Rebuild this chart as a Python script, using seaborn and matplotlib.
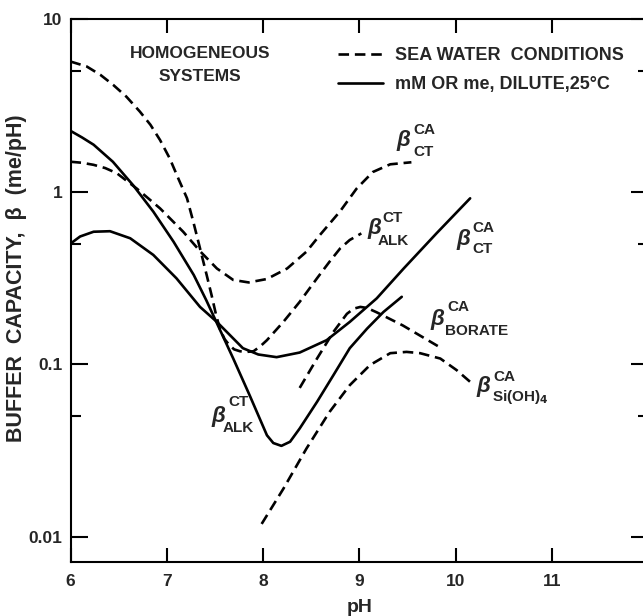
import numpy as np
import pandas as pd
import matplotlib
matplotlib.use("Agg")
import matplotlib.pyplot as plt
from matplotlib.lines import Line2D
from matplotlib.ticker import FixedLocator, NullFormatter
import seaborn as sns

# ---------------------------------------------------------------- data
# Sea water conditions (dashed)
ph_sea_ct_alk = [6.0, 6.168, 6.31, 6.444, 6.58, 6.72, 6.83, 6.93, 7.03, 7.12, 7.21,
                 7.275, 7.345, 7.414, 7.466, 7.51, 7.55, 7.6, 7.65, 7.7, 7.76, 7.83,
                 7.9, 7.97, 8.04, 8.21, 8.38, 8.56, 8.69, 8.80, 8.9, 9.02]
b_sea_ct_alk = [5.67, 5.31, 4.75, 4.15, 3.55, 2.91, 2.44, 1.99, 1.56, 1.19, 0.915,
                0.67, 0.469, 0.329, 0.25, 0.195, 0.161, 0.14, 0.129, 0.122, 0.119, 0.118,
                0.119, 0.127, 0.138, 0.176, 0.23, 0.315, 0.393, 0.469, 0.525, 0.573]

ph_sea_ca_ct = [6.0, 6.12, 6.24, 6.36, 6.48, 6.69, 6.93, 7.17, 7.35, 7.52, 7.69, 7.85,
                8.04, 8.25, 8.45, 8.59, 8.80, 8.97, 9.14, 9.32, 9.54]
b_sea_ca_ct = [1.49, 1.47, 1.43, 1.37, 1.28, 1.04, 0.80, 0.586, 0.449, 0.359, 0.308, 0.298,
               0.312, 0.359, 0.449, 0.561, 0.77, 1.04, 1.30, 1.44, 1.48]

ph_borate = [8.38, 8.56, 8.73, 8.87, 8.94, 9.01, 9.08, 9.18, 9.45, 9.82]
b_borate = [0.073, 0.108, 0.154, 0.196, 0.210, 0.215, 0.212, 0.20, 0.168, 0.127]

ph_silicate = [7.985, 8.21, 8.45, 8.69, 8.90, 9.11, 9.32, 9.49, 9.63, 9.84, 10.01, 10.17]
b_silicate = [0.0119, 0.019, 0.0325, 0.053, 0.0757, 0.099, 0.116, 0.118, 0.116, 0.108,
              0.0925, 0.0774]

# Dilute solution, 25 C (solid)
ph_dil_ct_alk = [6.0, 6.12, 6.24, 6.44, 6.65, 6.86, 7.07, 7.28, 7.41, 7.69, 7.86, 8.04,
                 8.106, 8.19, 8.28, 8.38, 8.56, 8.73, 8.90, 9.08, 9.25, 9.44]
b_dil_ct_alk = [2.25, 2.06, 1.87, 1.49, 1.09, 0.766, 0.513, 0.329, 0.235, 0.108, 0.0662,
                0.0388, 0.0350, 0.0337, 0.0356, 0.0425, 0.0606, 0.0865, 0.124, 0.161,
                0.201, 0.246]

ph_dil_ca_ct = [6.0, 6.1, 6.24, 6.41, 6.62, 6.86, 7.10, 7.345, 7.52, 7.79, 7.95,
                8.14, 8.38, 8.66, 8.90, 9.18, 9.46, 9.80, 10.15]
b_dil_ca_ct = [0.50, 0.55, 0.586, 0.59, 0.537, 0.43, 0.315, 0.215, 0.176, 0.124, 0.114,
               0.110, 0.117, 0.138, 0.176, 0.241, 0.359, 0.573, 0.915]

x_ticks = [6, 7, 8, 9, 10, 11]
x_tick_labels = ["6", "7", "8", "9", "10", "11"]
y_ticks = [0.01, 0.1, 1, 10]
y_tick_labels = ["0.01", "0.1", "1", "10"]
y_minor_ticks = [0.05, 0.5, 5]

legend_labels = ["SEA WATER  CONDITIONS", "mM OR me, DILUTE,25°C"]

# ---------------------------------------------------------------- style
sns.set_style("ticks")
plt.rcParams["font.family"] = ["Liberation Sans", "DejaVu Sans"]
plt.rcParams["font.weight"] = "bold"

LW = 1.9
DASH = (0, (4, 2.2))

fig = plt.figure(figsize=(6.43, 6.16), dpi=100)
ax = fig.add_axes([70.5 / 643, 54 / 616, 577.8 / 643, 543 / 616])

curves = [
    (ph_sea_ct_alk, b_sea_ct_alk, DASH),
    (ph_sea_ca_ct, b_sea_ca_ct, DASH),
    (ph_borate, b_borate, DASH),
    (ph_silicate, b_silicate, DASH),
    (ph_dil_ct_alk, b_dil_ct_alk, "-"),
    (ph_dil_ca_ct, b_dil_ca_ct, "-"),
]
for xs, ys, ls in curves:
    df = pd.DataFrame({"pH": xs, "beta": ys})
    sns.lineplot(data=df, x="pH", y="beta", ax=ax, color="black", lw=LW,
                 linestyle=ls, sort=False, estimator=None,
                 solid_joinstyle="round", dash_joinstyle="round")

ax.set_yscale("log")
ax.set_xlim(6, 12)
ax.set_ylim(10 ** -2.145, 10)

ax.xaxis.set_major_locator(FixedLocator(x_ticks))
ax.set_xticklabels(x_tick_labels)
ax.yaxis.set_major_locator(FixedLocator(y_ticks))
ax.set_yticklabels(y_tick_labels)
ax.yaxis.set_minor_locator(FixedLocator(y_minor_ticks))
ax.yaxis.set_minor_formatter(NullFormatter())
ax.xaxis.set_minor_locator(FixedLocator([]))

ax.tick_params(axis="both", which="both", direction="in", top=True, right=True,
               width=1.5, color="black")
ax.tick_params(axis="x", which="major", length=10, pad=8.5, labelsize=12.5)
ax.tick_params(axis="y", which="major", length=12, pad=6, labelsize=12.5)
ax.tick_params(axis="y", which="minor", length=7)
for lab in ax.get_xticklabels() + ax.get_yticklabels():
    lab.set_fontweight("bold")

for sp in ax.spines.values():
    sp.set_linewidth(1.5)
    sp.set_color("black")

ax.set_xlabel("pH", fontsize=14, fontweight="bold", labelpad=7)
ax.set_ylabel("BUFFER  CAPACITY,  β  (me/pH)", fontsize=15.5, fontweight="bold")
ax.yaxis.set_label_coords(-0.094, 0.523)
ax.yaxis.label.set_va("center")

ax.text(0.224, 0.915, "HOMOGENEOUS\nSYSTEMS", transform=ax.transAxes,
        ha="center", va="center", fontsize=12.5, fontweight="bold", linespacing=1.68)

handles = [Line2D([], [], color="black", lw=LW, linestyle=DASH),
           Line2D([], [], color="black", lw=LW, linestyle="-")]
ax.legend(handles, legend_labels, loc="upper left", bbox_to_anchor=(0.463, 0.948),
          frameon=False, handlelength=2.5, handletextpad=0.66, labelspacing=0.66,
          borderpad=0, borderaxespad=0,
          prop={"family": "Liberation Sans", "weight": "bold", "size": 13})


def beta_label(ph, b, sup, sub, sup_dx, sup_dy, sub_dx, sub_dy):
    """Write a beta symbol with a superscript and a subscript beside it."""
    ax.annotate("β", (ph, b), ha="left", va="center", fontsize=16,
                style="italic", fontweight="bold", family=["Liberation Sans", "DejaVu Sans"])
    ax.annotate(sup, (ph, b), xytext=(sup_dx, sup_dy), textcoords="offset points",
                ha="left", va="center", fontsize=11, fontweight="bold")
    ax.annotate(sub, (ph, b), xytext=(sub_dx, sub_dy), textcoords="offset points",
                ha="left", va="center", fontsize=11, fontweight="bold")


beta_label(9.39, 1.98, "CA", "CT", 11.5, 7.2, 11.5, -8.0)
beta_label(9.079, 0.61, "CT", "ALK", 10.8, 7.6, 7.9, -8.6)
beta_label(10.013, 0.530, "CA", "CT", 10.8, 7.9, 10.8, -7.2)
beta_label(9.733, 0.1823, "CA", "BORATE", 12.2, 8.6, 10.8, -8.6)
beta_label(10.221, 0.0741, "CA", "Si(OH)$_\\mathbf{4}$", 11.5, 6.8, 10.8, -7.0)
beta_label(7.466, 0.0496, "CT", "ALK", 11.7, 10.8, 8.1, -8.3)

fig.savefig("out.png", dpi=100)
